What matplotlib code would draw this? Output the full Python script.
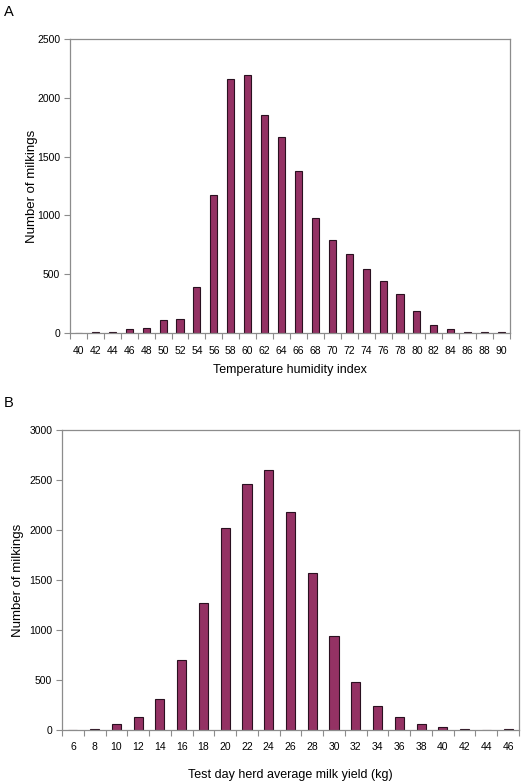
import matplotlib
matplotlib.use("Agg")
import matplotlib.pyplot as plt
import numpy as np

plt.rcParams['font.family'] = ['Liberation Sans', 'DejaVu Sans']

# panel A: temperature humidity index
thi_labels = ['40', '42', '44', '46', '48', '50', '52', '54', '56', '58', '60', '62', '64',
              '66', '68', '70', '72', '74', '76', '78', '80', '82', '84', '86', '88', '90']
thi_counts = [0, 5, 5, 30, 42, 110, 122, 395, 1175, 2156, 2190, 1853, 1669,
              1381, 980, 795, 668, 543, 443, 332, 190, 71, 37, 9, 8, 5]

# panel B: test day herd average milk yield
milk_labels = ['6', '8', '10', '12', '14', '16', '18', '20', '22', '24', '26',
               '28', '30', '32', '34', '36', '38', '40', '42', '44', '46']
milk_counts = [0, 15, 60, 129, 308, 702, 1272, 2023, 2457, 2599, 2179,
               1570, 944, 480, 242, 132, 60, 26, 15, 5, 12]

W, H = 527, 784
fig = plt.figure(figsize=(W / 100, H / 100), dpi=100)
bar_color = '#943264'
frame = '#8c8c8c'


def panel(rect, labels, counts, ymax, step, xlabel, xlabpad, ylab_x, letter, letter_y):
    l, t, r, b = rect
    ax = fig.add_axes([l / W, 1 - b / H, (r - l) / W, (b - t) / H])
    x = np.arange(len(labels))
    ax.bar(x, counts, width=0.42, color=bar_color, edgecolor='#2a1020', linewidth=0.8)
    ax.set_xlim(-0.5, len(labels) - 0.5)
    ax.set_ylim(0, ymax)
    ax.set_yticks(np.arange(0, ymax + 1, step))
    ax.set_xticks(x)
    ax.set_xticklabels(labels)
    ax.set_xticks(np.arange(-0.5, len(labels)), minor=True)
    ax.tick_params(axis='x', which='major', length=0, pad=9, labelsize=7.5)
    ax.tick_params(axis='x', which='minor', length=4, color=frame, width=0.8, direction='out')
    ax.tick_params(axis='y', length=4, color=frame, width=0.8, labelsize=7.5, pad=3)
    for s in ax.spines.values():
        s.set_color(frame)
        s.set_linewidth(0.9)
    ax.set_xlabel(xlabel, fontsize=9, labelpad=xlabpad)
    ax.set_ylabel('Number of milkings', fontsize=9.5)
    ax.yaxis.set_label_coords((ylab_x - l) / (r - l), 0.5)
    fig.text(4 / W, 1 - letter_y / H, letter, fontsize=10.5, va='center', ha='left')
    return ax


panel((70, 39, 510, 333), thi_labels, thi_counts, 2500, 500,
      'Temperature humidity index', 6, 38, 'A', 12)
panel((62, 430, 519, 730), milk_labels, milk_counts, 3000, 500,
      'Test day herd average milk yield (kg)', 12, 24, 'B', 403)

fig.savefig('out.png', dpi=100)
